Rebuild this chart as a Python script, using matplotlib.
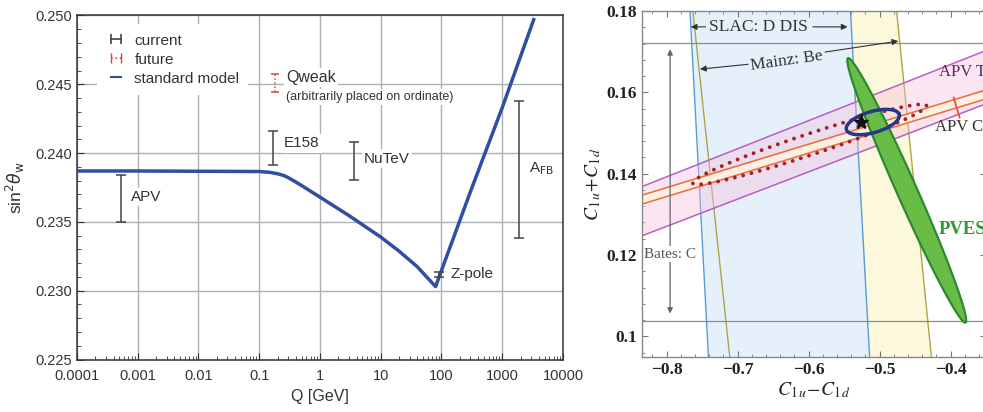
import numpy as np
import matplotlib
matplotlib.use("Agg")
import matplotlib.pyplot as plt
from matplotlib.lines import Line2D
from matplotlib.ticker import (LogLocator, FuncFormatter, MultipleLocator,
                               NullFormatter, AutoMinorLocator)

plt.rcParams['font.family'] = ['Liberation Sans', 'DejaVu Sans']

# ---- left panel: running of sin^2 theta_W
sm_q = [1e-4, 1e-3, 0.01, 0.1, 0.15, 0.2, 0.25, 0.3, 0.4, 0.5, 1, 3, 10, 20,
        40, 80, 300, 1000, 3300]
sm_s2w = [0.2387, 0.2387, 0.23868, 0.23866, 0.2386, 0.2385, 0.23838, 0.23822,
          0.2379, 0.23764, 0.2368, 0.23546, 0.2339, 0.23288, 0.23174, 0.2303,
          0.2372, 0.2433, 0.2497]

meas_names = ['APV', 'E158', 'NuTeV', 'Z-pole', r'A$_{\mathrm{FB}}$']
meas_q = [5.4e-4, 0.166, 3.6, 91.19, 1890]
meas_val = [0.2367, 0.24035, 0.23943, 0.2312, 0.2388]
meas_err = [0.0017, 0.00125, 0.0014, 0.00017, 0.005]
label_q = [7.7e-4, 0.255, 5.3, 143, 2750]
label_val = [0.2368, 0.2407, 0.2396, 0.2312, 0.2389]

qweak_q = 0.18
qweak_val = 0.24508
qweak_err = 0.00064

# ---- right panel: C1u-C1d vs C1u+C1d
xr = (-0.835, -0.35)
yr = (0.095, 0.18)
# vertical bands: x of edge at (top, bottom)
slac_lo = (-0.767, -0.741)
slac_hi = (-0.541, -0.514)
mainz_lo = (-0.763, -0.711)
mainz_hi = (-0.476, -0.427)
bates_y = (0.1039, 0.1721)
# sloped bands: y of edge at (left, right)
tl_lo = (0.1247, 0.1572)
tl_hi = (0.1368, 0.1703)
cs_lo = (0.1325, 0.1584)
cs_hi = (0.1347, 0.1606)
# ellipses: centre, semi axis u, conjugate semi axis v (data units)
future_c, future_u, future_v = (-0.5985, 0.1472), (0.1645, 0.00955), (-0.0047, 0.00245)
current_c, current_u, current_v = (-0.5095, 0.1527), (0.0372, 0.00186), (-0.0041, 0.0025)
pves_c, pves_u, pves_v = (-0.4617, 0.1359), (0.0827, -0.0325), (0.0129, 0.0010)
sm_point = (-0.5255, 0.1528)


def conic(c, u, v, n=300):
    t = np.linspace(0, 2 * np.pi, n)
    return (c[0] + u[0] * np.cos(t) + v[0] * np.sin(t),
            c[1] + u[1] * np.cos(t) + v[1] * np.sin(t))


fig = plt.figure(figsize=(9.83, 4.12), dpi=100)

# ================= left
ax = fig.add_axes([0.0783, 0.1274, 0.4944, 0.835])
ax.set_xscale('log')
ax.set_xlim(1e-4, 1e4)
ax.set_ylim(0.225, 0.250)
ax.grid(True, which='major', color='#a9b0b8', lw=1.0, zorder=0)
ax.xaxis.set_major_locator(LogLocator(base=10, numticks=20))
ax.xaxis.set_minor_locator(LogLocator(base=10, subs=np.arange(2, 10), numticks=20))
ax.xaxis.set_minor_formatter(NullFormatter())
ax.xaxis.set_major_formatter(FuncFormatter(lambda v, p: f'{v:g}'))
ax.yaxis.set_major_locator(MultipleLocator(0.005))
ax.yaxis.set_minor_locator(MultipleLocator(0.001))
ax.yaxis.set_major_formatter(FuncFormatter(lambda v, p: f'{v:.3f}'))
ax.tick_params(which='both', direction='in', colors='#333333', labelsize=10.5)
ax.tick_params(which='major', length=5)
ax.tick_params(which='minor', length=3)
ax.tick_params(axis='x', which='major', pad=7)
for s in ax.spines.values():
    s.set_color('#333333')
    s.set_linewidth(1.1)

ax.plot(sm_q, sm_s2w, color='#2f4f9f', lw=2.5, zorder=4, solid_joinstyle='round')

ax.errorbar(meas_q, meas_val, yerr=meas_err, fmt='none', ecolor='#444444',
            elinewidth=1.1, capsize=3.5, capthick=1.1, zorder=5)
for name, q, v in zip(meas_names, label_q, label_val):
    ax.text(q, v, name, fontsize=11, color='#333333', va='center', ha='left',
            bbox=dict(fc='white', ec='none', pad=1.5), zorder=3)

eb = ax.errorbar([qweak_q], [qweak_val], yerr=[qweak_err], fmt='none',
                 ecolor='#e04040', elinewidth=1.1, capsize=3, capthick=1.1, zorder=5)
eb[2][0].set_linestyle(':')
ax.text(0.276, 0.2455, 'Qweak', fontsize=11.5, color='#333333', va='center',
        bbox=dict(fc='white', ec='none', pad=1.5), zorder=3)
ax.text(0.276, 0.2441, '(arbitrarily placed on ordinate)', fontsize=9,
        color='#333333', va='center', bbox=dict(fc='white', ec='none', pad=1.5),
        zorder=3)

handles = [Line2D([], [], color='#444444', lw=1.2, marker='|', ms=7, mew=1.2),
           Line2D([], [], color='#e04040', lw=1.2, ls=':', marker='|', ms=7, mew=1.0),
           Line2D([], [], color='#2f4f9f', lw=1.5)]
leg = ax.legend(handles, ['current', 'future', 'standard model'], numpoints=2,
                loc='upper left', bbox_to_anchor=(0.041, 0.974), borderaxespad=0,
                borderpad=0.6, handlelength=1.3, handletextpad=0.55,
                labelspacing=0.33, fontsize=11, frameon=True, fancybox=False,
                framealpha=1, facecolor='white', edgecolor='none')
for t in leg.get_texts():
    t.set_color('#333333')

ax.set_xlabel('Q [GeV]', fontsize=11.5, color='#333333', labelpad=4)
ax.set_ylabel(r'sin$^2\theta_\mathrm{w}$', fontsize=12.5, color='#333333', labelpad=6)

# ================= right
bx = fig.add_axes([0.6528, 0.1342, 0.3503, 0.8391])
bx.set_xlim(*xr)
bx.set_ylim(*yr)
ys = [yr[1], yr[0]]
bx.fill_betweenx(ys, mainz_lo, mainz_hi, color='#fbf8dc', lw=0, zorder=1)
bx.fill_betweenx(ys, slac_lo, slac_hi, color='#e6f0fa', lw=0, zorder=1.2)
for e in (slac_lo, slac_hi):
    bx.plot(e, ys, color='#5a9ad6', lw=1.0, zorder=2)
for e in (mainz_lo, mainz_hi):
    bx.plot(e, ys, color='#b0a448', lw=1.0, zorder=2)

bx.fill_between(xr, tl_lo, tl_hi, color='#f5bedc', alpha=0.4, lw=0, zorder=2.5)
bx.fill_between(xr, cs_lo, cs_hi, color='#fff4df', alpha=0.85, lw=0, zorder=2.6)
for e in (tl_lo, tl_hi):
    bx.plot(xr, e, color='#b85ec4', lw=1.1, zorder=3)
for e in (cs_lo, cs_hi):
    bx.plot(xr, e, color='#ee6a3c', lw=1.1, zorder=3)

for y in bates_y:
    bx.axhline(y, color='#8c8c8c', lw=0.9, zorder=3)

fx, fy = conic(future_c, future_u, future_v)
bx.plot(fx, fy, color='#a81f2a', lw=2.8, ls=(0, (0.01, 2.2)),
        dash_capstyle='round', zorder=4)
gx, gy = conic(pves_c, pves_u, pves_v)
bx.fill(gx, gy, facecolor='#69bd47', edgecolor='#2b8a30', lw=1.6, zorder=5)
cx, cy = conic(current_c, current_u, current_v)
bx.plot(cx, cy, color='#28368c', lw=2.5, zorder=6)
bx.plot(*sm_point, marker='*', ms=11, color='#111111', zorder=7)

arrow = dict(arrowstyle='-|>', color='#333333', lw=0.8, mutation_scale=9,
             shrinkA=0, shrinkB=0)
serif = ['Liberation Serif', 'DejaVu Serif']
bx.text(-0.6705, 0.1761, 'SLAC: D DIS', family=serif, fontsize=12.5,
        color='#333333', ha='center', va='center', zorder=8)
bx.annotate('', xy=(-0.766, 0.1761), xytext=(-0.745, 0.1761), arrowprops=arrow, zorder=8)
bx.annotate('', xy=(-0.545, 0.1761), xytext=(-0.594, 0.1761), arrowprops=arrow, zorder=8)

bx.text(-0.631, 0.1678, 'Mainz: Be', family=serif, fontsize=12.5, rotation=8,
        color='#333333', ha='center', va='center', zorder=8)
bx.annotate('', xy=(-0.753, 0.1657), xytext=(-0.685, 0.1669), arrowprops=arrow, zorder=8)
bx.annotate('', xy=(-0.4736, 0.1726), xytext=(-0.5768, 0.1699), arrowprops=arrow, zorder=8)

bx.annotate('', xy=(-0.795, 0.1706), xytext=(-0.795, 0.1056),
            arrowprops=dict(arrowstyle='<|-|>', color='#666666', lw=0.9,
                            mutation_scale=8, shrinkA=0, shrinkB=0), zorder=3)
bx.text(-0.795, 0.1202, 'Bates: C', family=serif, fontsize=11, color='#555555',
        ha='center', va='center', bbox=dict(fc='white', ec='none', pad=1), zorder=8)

bx.text(-0.4168, 0.1651, 'APV Tl', family=serif, fontsize=12, color='#5e2468',
        va='center', zorder=8)
bx.text(-0.4223, 0.1516, 'APV Cs', family=serif, fontsize=12, color='#333333',
        va='center', zorder=8)
bx.plot([-0.3956, -0.3872], [0.1587, 0.1538], color='#ee5030', lw=1.3, zorder=8)
bx.text(-0.4168, 0.1262, 'PVES', family=serif, fontsize=13.5, fontweight='bold',
        color='#2e9a35', va='center', zorder=8)

bx.xaxis.set_major_locator(MultipleLocator(0.1))
bx.xaxis.set_minor_locator(MultipleLocator(0.02))
bx.yaxis.set_major_locator(MultipleLocator(0.02))
bx.yaxis.set_minor_locator(AutoMinorLocator(5))
bx.xaxis.set_major_formatter(FuncFormatter(lambda v, p: f'{v:g}'.replace('-', '\u2212')))
bx.yaxis.set_major_formatter(FuncFormatter(lambda v, p: f'{v:g}'))
bx.tick_params(which='both', direction='in', top=True, right=True,
               colors='#777777', labelcolor='#222222')
bx.tick_params(which='major', length=4)
bx.tick_params(which='minor', length=2.5)
for lab in bx.get_xticklabels() + bx.get_yticklabels():
    lab.set_family(serif)
    lab.set_fontweight('bold')
    lab.set_fontsize(12.5)
for s in bx.spines.values():
    s.set_color('#888888')
    s.set_linewidth(1.0)
    s.set_zorder(9)

bx.set_xlabel(r'$C_{1\,u}\!-\!C_{1\,d}$', fontsize=14, math_fontfamily='stix',
              color='#222222', labelpad=2)
bx.set_ylabel(r'$C_{1\,u}\!+\!C_{1\,d}$', fontsize=14, math_fontfamily='stix',
              color='#222222', labelpad=2)

fig.savefig('out.png', dpi=100)
